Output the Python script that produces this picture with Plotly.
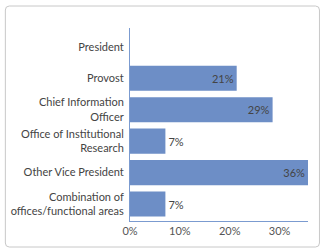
import plotly.graph_objects as go

categories = ["President", "Provost", "Chief Information<br>Officer", "Office of Institutional<br>Research",
              "Other Vice President", "Combination of<br>offices/functional areas"]
values = [0, 21.4, 28.6, 7.1, 35.7, 7.1]
labels = ["", "21%", "29%", "7%", "36%", "7%"]
positions = ["none", "inside", "inside", "outside", "inside", "outside"]
tick_vals = [0, 10, 20, 30]
tick_text = ["0%", "10%", "20%", "30%"]

W, H = 323, 249
ml, mr, mt, mb = 130, 14.5, 28, 28
pw, ph = W - ml - mr, H - mt - mb
FONT = "Lato"
FS = 11

fig = go.Figure(go.Bar(
    y=categories, x=values, orientation="h",
    marker=dict(color="#6d8ec6", line=dict(width=0)),
    text=labels, textposition=positions, insidetextanchor="end",
    textfont=dict(color="#444", size=FS, family=FONT),
    insidetextfont=dict(color="#444", size=FS), outsidetextfont=dict(color="#444", size=FS),
    cliponaxis=False, hoverinfo="skip",
))

# rounded border rectangle in paper coordinates
x0p, x1p, y0p, y1p, r = 5, 320, 6, 247, 4
def px(x): return (x - ml) / pw
def py(y): return 1 - (y - mt) / ph
path = (f"M {px(x0p+r)},{py(y0p)} L {px(x1p-r)},{py(y0p)} Q {px(x1p)},{py(y0p)} {px(x1p)},{py(y0p+r)} "
        f"L {px(x1p)},{py(y1p-r)} Q {px(x1p)},{py(y1p)} {px(x1p-r)},{py(y1p)} "
        f"L {px(x0p+r)},{py(y1p)} Q {px(x0p)},{py(y1p)} {px(x0p)},{py(y1p-r)} "
        f"L {px(x0p)},{py(y0p+r)} Q {px(x0p)},{py(y0p)} {px(x0p+r)},{py(y0p)} Z")

fig.update_layout(
    width=W, height=H, margin=dict(l=ml, r=mr, t=mt, b=mb, autoexpand=False),
    paper_bgcolor="white", plot_bgcolor="white",
    bargap=0.2, showlegend=False,
    font=dict(family=FONT, size=FS, color="#444"),
    xaxis=dict(range=[0, 35.7], tickvals=tick_vals, ticktext=tick_text, showgrid=False, zeroline=False,
               automargin=False,
               showline=True, linecolor="#7b9bd0", linewidth=1, ticks="", tickfont=dict(color="#555", size=FS)),
    yaxis=dict(range=[5.54, -0.6], showgrid=False, zeroline=False, showline=True, linecolor="#7b9bd0",
               automargin=False,
               linewidth=1, ticks="", ticklabelstandoff=3, tickfont=dict(color="#444", size=FS)),
    shapes=[dict(type="path", path=path, xref="paper", yref="paper",
                 line=dict(color="#c8c8c8", width=1), layer="below")],
)
fig.write_html("out.html", config={"displayModeBar": False},
               post_script="document.body.style.margin='0';document.body.style.overflow='hidden';")
